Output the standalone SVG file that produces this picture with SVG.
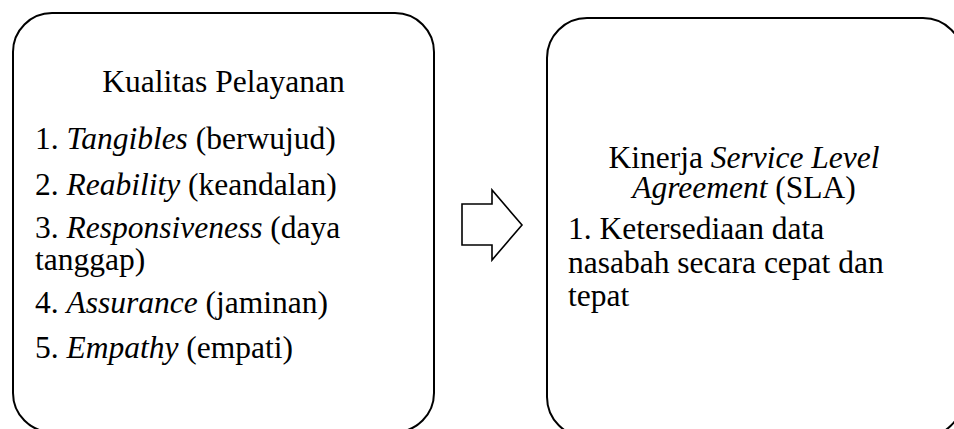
<svg xmlns="http://www.w3.org/2000/svg" width="954" height="429" viewBox="0 0 954 429">
<style>
.box{fill:none;stroke:#000;stroke-width:2}
.arrow{fill:#fff;stroke:#000;stroke-width:1.6;stroke-linejoin:miter}
text{font-family:"Liberation Serif","Times New Roman",serif;font-size:31.5px;fill:#000}
.i{font-style:italic}
.c{text-anchor:middle}
</style>
<rect width="954" height="429" fill="#fff"/>
<g id="node-kualitas">
<rect class="box" x="13" y="13" width="421" height="419" rx="39" ry="39"/>
<text class="c" x="223.5" y="92">Kualitas Pelayanan</text>
<text x="35" y="149">1. <tspan class="i">Tangibles</tspan> (berwujud)</text>
<text x="35" y="195">2. <tspan class="i">Reability</tspan> (keandalan)</text>
<text x="35" y="238">3. <tspan class="i">Responsiveness</tspan> (daya</text>
<text x="35" y="270">tanggap)</text>
<text x="35" y="313">4. <tspan class="i">Assurance</tspan> (jaminan)</text>
<text x="35" y="358">5. <tspan class="i">Empathy</tspan> (empati)</text>
</g>
<g id="connectors">
<polygon class="arrow" points="462,204 492,204 492,190 522,225 492,260 492,245 462,245"/>
</g>
<g id="node-sla">
<rect class="box" x="547" y="18" width="416" height="419" rx="40" ry="40"/>
<text class="c" x="744" y="168">Kinerja <tspan class="i">Service Level</tspan></text>
<text class="c" x="744" y="198"><tspan class="i">Agreement</tspan> (SLA)</text>
<text x="568" y="239">1. Ketersediaan data</text>
<text x="568" y="273">nasabah secara cepat dan</text>
<text x="568" y="306">tepat</text>
</g>
</svg>
